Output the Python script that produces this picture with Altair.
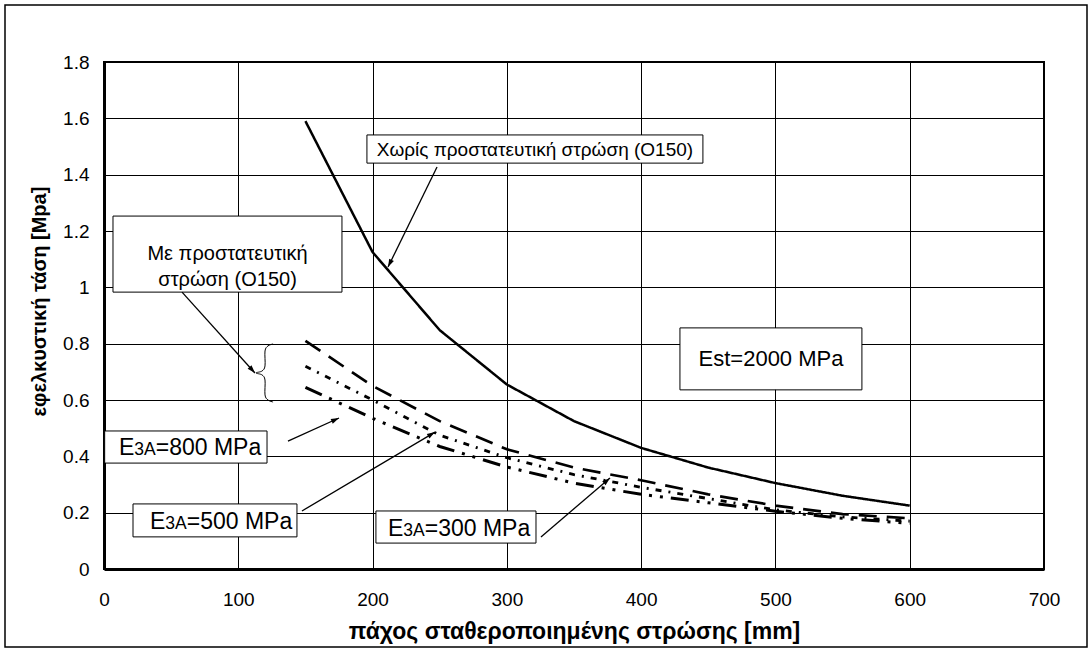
import math
import altair as alt
import pandas as pd

# ---------------- data ----------------
thickness = [150, 200, 250, 300, 350, 400, 450, 500, 550, 600]
no_layer = [1.59, 1.125, 0.848, 0.655, 0.525, 0.43, 0.36, 0.305, 0.26, 0.225]
with_e300 = [0.81, 0.65, 0.525, 0.425, 0.36, 0.315, 0.265, 0.225, 0.195, 0.18]
with_e500 = [0.72, 0.60, 0.475, 0.395, 0.335, 0.29, 0.25, 0.21, 0.185, 0.17]
with_e800 = [0.645, 0.535, 0.435, 0.362, 0.305, 0.265, 0.235, 0.205, 0.18, 0.162]

series_names = ["Χωρίς προστατευτική", "E3A=300", "E3A=500", "E3A=800"]
series_values = [no_layer, with_e300, with_e500, with_e800]

x_ticks = [0, 100, 200, 300, 400, 500, 600, 700]
y_ticks = [0, 0.2, 0.4, 0.6, 0.8, 1.0, 1.2, 1.4, 1.6, 1.8]

x_title = "πάχος σταθεροποιημένης στρώσης [mm]"
y_title = "εφελκυστική τάση [Mpa]"

# annotation boxes (data units)
box_x1 = [195.8, 6.7, 428.9, 0.5, 21.6, 202.5]
box_x2 = [446.0, 177.2, 564.4, 121.4, 143.7, 321.7]
box_y1 = [1.541, 1.253, 0.856, 0.490, 0.231, 0.206]
box_y2 = [1.441, 0.983, 0.636, 0.376, 0.114, 0.092]

# centered texts
ctext = ["Χωρίς προστατευτική στρώση (Ο150)", "Με προστατευτική\nστρώση (Ο150)", "Est=2000 MPa"]
ctext_x = [320.9, 92.0, 496.7]
ctext_y = [1.488, 1.118, 0.746]

# E3A labels
lab_rest = ["=800 MPa", "=500 MPa", "=300 MPa"]
lab_x = [11.2, 34.3, 211.5]
lab_y = [0.405, 0.142, 0.117]

# arrows: start -> tip
arr_x0 = [248.0, 58.1, 137.0, 147.4, 325.4]
arr_y0 = [1.427, 0.983, 0.454, 0.206, 0.114]
arr_x1 = [211.5, 112.4, 175.0, 246.5, 376.8]
arr_y1 = [1.072, 0.696, 0.536, 0.486, 0.323]

# brace "{"
brace_x = [125.9, 122.1, 119.9, 119.9, 117.7, 113.2, 117.7, 119.9, 119.9, 122.1, 125.9]
brace_y = [0.799, 0.792, 0.774, 0.721, 0.703, 0.696, 0.689, 0.671, 0.618, 0.600, 0.593]

# ---------------- chart ----------------
W, H = 940, 507
FONT = "Liberation Sans"
kx = W / 700.0
ky = H / 1.8

rows = []
for name, vals in zip(series_names, series_values):
    for t, v in zip(thickness, vals):
        rows.append({"x": t, "y": v, "s": name})
df = pd.DataFrame(rows)

xs = alt.Scale(domain=[0, 700], nice=False, zero=False)
ys = alt.Scale(domain=[0, 1.8], nice=False)

xaxis = alt.Axis(
    values=x_ticks, grid=True, gridColor="black", gridWidth=1, gridOpacity=1,
    tickSize=0, domainColor="black", domainWidth=3,
    labelFont=FONT, labelFontSize=19, labelColor="black", labelPadding=21,
    labelFlush=False,
    title=x_title, titleFont=FONT, titleFontSize=23, titleFontWeight="bold",
    titleColor="black", titlePadding=11,
)
yaxis = alt.Axis(
    values=y_ticks, format="~g", grid=True, gridColor="black", gridWidth=1,
    gridOpacity=1, tickSize=0, domainColor="black", domainWidth=3,
    labelFont=FONT, labelFontSize=19, labelColor="black", labelPadding=15,
    title=y_title, titleFont=FONT, titleFontSize=20, titleFontWeight="bold",
    titleColor="black", titlePadding=13, titleY=239,
)


def X(field="x"):
    return alt.X(f"{field}:Q", scale=xs, axis=xaxis)


def Y(field="y"):
    return alt.Y(f"{field}:Q", scale=ys, axis=yaxis)


lines = alt.Chart(df).mark_line(color="black").encode(
    x=X(), y=Y(),
    strokeDash=alt.StrokeDash(
        "s:N",
        scale=alt.Scale(domain=series_names,
                        range=[[1, 0], [18, 10], [6, 7, 2, 7], [18, 8, 3, 8, 3, 8]]),
        legend=None,
    ),
    strokeWidth=alt.StrokeWidth(
        "s:N", scale=alt.Scale(domain=series_names, range=[2.5, 3, 3, 3]), legend=None
    ),
)

boxes_df = pd.DataFrame({"x": box_x1, "x2": box_x2, "y": box_y1, "y2": box_y2})
boxes = alt.Chart(boxes_df).mark_rect(fill="white", stroke="black", strokeWidth=1).encode(
    x=X(), x2="x2:Q", y=Y(), y2="y2:Q",
)

ct_df = pd.DataFrame({"x": ctext_x, "y": ctext_y, "txt": ctext,
                      "fs": [19, 20, 22]})
ctexts = alt.Chart(ct_df).mark_text(
    font=FONT, color="black", align="center", baseline="middle", lineBreak="\n",
    lineHeight=26,
).encode(
    x=X(), y=Y(),
    text="txt:N",
    size=alt.Size("fs:Q", scale=None),
)

lab_df = pd.DataFrame({"x": lab_x, "y": lab_y, "rest": lab_rest})
lab_e = alt.Chart(lab_df).mark_text(
    font=FONT, fontSize=23, color="black", align="left", baseline="alphabetic", text="E"
).encode(x=X(), y=Y())
lab_3a = alt.Chart(lab_df).mark_text(
    font=FONT, fontSize=17.5, color="black", align="left", baseline="alphabetic",
    text="3A", dx=15.3
).encode(x=X(), y=Y())
lab_r = alt.Chart(lab_df).mark_text(
    font=FONT, fontSize=23, color="black", align="left", baseline="alphabetic", dx=36.7
).encode(x=X(), y=Y(), text="rest:N")

angles = []
for a, b, c, d in zip(arr_x0, arr_y0, arr_x1, arr_y1):
    dxp = (c - a) * kx
    dyp = -(d - b) * ky
    angles.append(math.degrees(math.atan2(dxp, -dyp)) % 360)
arr_df = pd.DataFrame({"x": arr_x0, "y": arr_y0, "x2": arr_x1, "y2": arr_y1, "ang": angles})
arrows = alt.Chart(arr_df).mark_rule(color="black", strokeWidth=1.3).encode(
    x=X(), y=Y(), x2="x2:Q", y2="y2:Q",
)
heads = alt.Chart(arr_df).mark_point(
    shape="M0,0L-0.65,2L0.65,2Z", filled=True, fill="black", size=64, strokeWidth=0,
    opacity=1,
).encode(
    x=X("x2"), y=Y("y2"),
    angle=alt.Angle("ang:Q", scale=None),
)

brace_df = pd.DataFrame({"x": brace_x, "y": brace_y, "o": list(range(len(brace_x)))})
brace = alt.Chart(brace_df).mark_line(color="black", strokeWidth=1, interpolate="cardinal").encode(
    x=X(), y=Y(), order="o:Q",
)

frame = alt.Chart(pd.DataFrame({"a": [0]})).mark_rect(
    fillOpacity=0, stroke="black", strokeWidth=1.5, clip=False
).encode(
    x=alt.value(-99), x2=alt.value(983), y=alt.value(-57), y2=alt.value(585)
)

chart = alt.layer(
    lines, boxes, ctexts, lab_e, lab_3a, lab_r, arrows, heads, brace, frame
).properties(
    width=W, height=H,
    padding={"left": 104, "top": 62, "right": 48, "bottom": 83},
    autosize=alt.AutoSizeParams(type="none"),
    background="white",
).configure_view(stroke="black", strokeWidth=2)

chart.save("out.html", embed_options={"renderer": "svg", "actions": False})
